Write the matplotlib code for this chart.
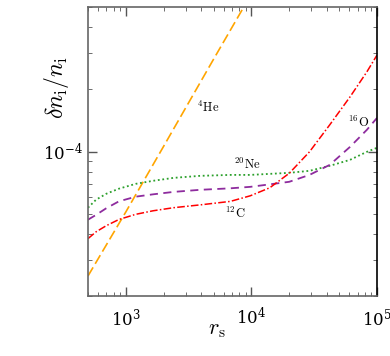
import matplotlib
matplotlib.use("Agg")
import matplotlib.pyplot as plt
from matplotlib.ticker import LogLocator, NullFormatter

plt.rcParams['mathtext.fontset'] = 'cm'
plt.rcParams['font.family'] = 'serif'
plt.rcParams['font.serif'] = ['DejaVu Serif']

# valeurs
r_s = [500, 580, 700, 880, 1200, 1650, 2400, 3900, 6800, 9800,
       14000, 20000, 29000, 42000, 61000, 83000, 100000]
ne20 = [5.35e-5, 5.85e-5, 6.25e-5, 6.61e-5, 6.98e-5, 7.22e-5, 7.46e-5, 7.63e-5, 7.71e-5,
        7.71e-5, 7.80e-5, 7.89e-5, 8.07e-5, 8.53e-5, 9.12e-5, 9.97e-5, 1.043e-4]
o16 = [4.68e-5, 4.94e-5, 5.32e-5, 5.74e-5, 6.05e-5, 6.21e-5, 6.38e-5, 6.53e-5, 6.64e-5,
       6.75e-5, 6.94e-5, 7.14e-5, 7.71e-5, 8.62e-5, 1.054e-4, 1.274e-4, 1.455e-4]
c12 = [3.79e-5, 4.09e-5, 4.38e-5, 4.69e-5, 4.97e-5, 5.17e-5, 5.35e-5, 5.52e-5, 5.74e-5,
       6.11e-5, 6.68e-5, 7.85e-5, 9.97e-5, 1.346e-4, 1.84e-4, 2.43e-4, 2.93e-4]
r_he = [500, 1000, 2000, 5000, 1e4]
he4 = [2.5e-5, 5.1e-5, 1.06e-4, 2.8e-4, 5.8e-4]

fig = plt.figure(figsize=(3.9, 3.56), dpi=100)
ax = fig.add_axes([0.2256, 0.1685, 0.7411, 0.8115])

ax.plot(r_he, he4, color='orange', lw=1.2, dashes=(6, 2.5))
ax.plot(r_s, ne20, color='#2ca02c', lw=1.3, linestyle=(0, (1, 1.5)))
ax.plot(r_s, o16, color='#8e2c9e', lw=1.3, dashes=(4.5, 3))
ax.plot(r_s, c12, color='red', lw=1.1, dashes=(5, 1.5, 1, 1.5))

ax.set_xscale('log')
ax.set_yscale('log')
ax.set_xlim(500, 1e5)
ax.set_ylim(2e-5, 5e-4)

ax.yaxis.set_major_locator(LogLocator(base=10))
ax.yaxis.set_minor_locator(LogLocator(base=10, subs=range(2, 10)))
ax.yaxis.set_minor_formatter(NullFormatter())
ax.xaxis.set_minor_formatter(NullFormatter())

ax.tick_params(which='both', direction='in', top=True, right=True, colors='#555555',
               labelcolor='black', labelsize=12)
ax.tick_params(which='major', length=6.5, width=1.0)
ax.tick_params(which='minor', length=3, width=0.6)
ax.tick_params(axis='x', which='major', pad=8)

for side in ['left', 'bottom', 'top']:
    ax.spines[side].set_color('#666666')
    ax.spines[side].set_linewidth(1.2)
ax.spines['right'].set_color('black')
ax.spines['right'].set_linewidth(1.2)

ax.set_ylabel(r'$\delta n_\mathrm{i}/n_\mathrm{i}$', fontsize=17)
ax.yaxis.set_label_coords(-0.06, 0.723)
ax.set_xlabel(r'$r_\mathrm{s}$', fontsize=16)
ax.xaxis.set_label_coords(0.446, -0.075)

ax.text(4510, 1.64e-4, r'$^{4}\mathrm{He}$', fontsize=9, ha='center', va='center')
ax.text(9230, 8.63e-5, r'$^{20}\mathrm{Ne}$', fontsize=9, ha='center', va='center')
ax.text(71900, 1.39e-4, r'$^{16}\mathrm{O}$', fontsize=9, ha='center', va='center')
ax.text(7390, 5.0e-5, r'$^{12}\mathrm{C}$', fontsize=9, ha='center', va='center')

fig.savefig('out.png', dpi=100)
